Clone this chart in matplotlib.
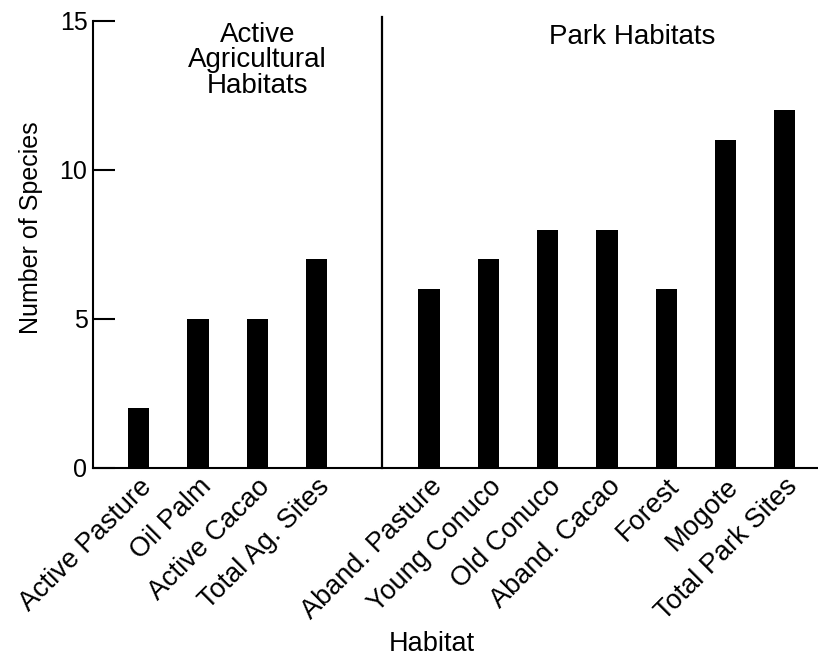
import matplotlib
matplotlib.use("Agg")
import matplotlib.pyplot as plt

plt.rcParams["font.family"] = ["Liberation Sans", "DejaVu Sans"]

AG_HABITATS = ["Active Pasture", "Oil Palm", "Active Cacao", "Total Ag. Sites"]
AG_SPECIES = [2, 5, 5, 7]
PARK_HABITATS = ["Aband. Pasture", "Young Conuco", "Old Conuco", "Aband. Cacao",
                 "Forest", "Mogote", "Total Park Sites"]
PARK_SPECIES = [6, 7, 8, 8, 6, 11, 12]
Y_TICKS = [0, 5, 10, 15]

PARK_OFFSET = 4.9
DIVIDER_X = 4.1
BAR_WIDTH = 0.36


def main() -> None:
    fig = plt.figure(figsize=(8.18, 6.56), dpi=100)
    ax = fig.add_axes([0.1137, 0.2866, 0.8863, 0.6814])

    ag_x = list(range(len(AG_HABITATS)))
    park_x = [PARK_OFFSET + i for i in range(len(PARK_HABITATS))]

    ax.bar(ag_x, AG_SPECIES, width=BAR_WIDTH, color="black")
    ax.bar(park_x, PARK_SPECIES, width=BAR_WIDTH, color="black")

    ax.set_xlim(-0.77, 11.46)
    ax.set_ylim(0, 15)
    ax.plot([DIVIDER_X, DIVIDER_X], [0, 15.15], color="black", lw=1.6, clip_on=False)

    ax.set_yticks(Y_TICKS)
    ax.tick_params(axis="y", direction="in", length=16, width=1.5, pad=4, labelsize=18)
    ax.set_xticks(ag_x + park_x)
    ax.set_xticklabels(AG_HABITATS + PARK_HABITATS, rotation=45, ha="right",
                       va="top", rotation_mode="anchor", fontsize=19.5)
    ax.tick_params(axis="x", length=0, pad=4)

    for side in ("top", "right"):
        ax.spines[side].set_visible(False)
    for side in ("left", "bottom"):
        ax.spines[side].set_linewidth(1.5)

    # axis titles placed where the original has them (not centred on the axes)
    fig.text(31 / 818, 1 - 228 / 656, "Number of Species", rotation=90,
             ha="center", va="center", fontsize=18)
    fig.text(432 / 818, 5 / 656, "Habitat", ha="center", va="baseline", fontsize=19.5)

    ax.text(2.0, 14.98, "Active\nAgricultural\nHabitats", ha="center", va="top",
            fontsize=20, linespacing=0.98)
    ax.text(8.32, 14.9, "Park Habitats", ha="center", va="top", fontsize=20)

    fig.savefig("out.png", dpi=100)
    plt.close(fig)


if __name__ == "__main__":
    main()
